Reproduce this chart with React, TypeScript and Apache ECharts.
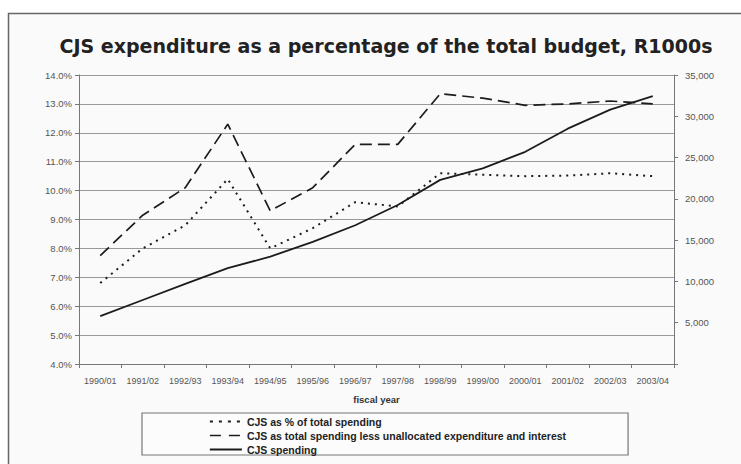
import React, { useEffect, useRef } from "react";
import * as echarts from "echarts";

const categories = [
  "1990/01", "1991/02", "1992/93", "1993/94", "1994/95", "1995/96", "1996/97",
  "1997/98", "1998/99", "1999/00", "2000/01", "2001/02", "2002/03", "2003/04",
];
const pctOfTotal = [6.8, 8.0, 8.8, 10.4, 8.0, 8.7, 9.6, 9.45, 10.6, 10.55, 10.5, 10.52, 10.6, 10.5];
const pctLessUnallocated = [7.75, 9.15, 10.1, 12.3, 9.3, 10.1, 11.6, 11.6, 13.35, 13.2, 12.95, 13.0, 13.1, 13.0];
const cjsSpending = [5800, 7750, 9700, 11600, 13000, 14800, 16800, 19250, 22300, 23700, 25700, 28500, 30800, 32450];

const seriesNames = [
  "CJS as % of total spending",
  "CJS as total spending less unallocated expenditure and interest",
  "CJS spending",
];
const titleText = "CJS expenditure as a percentage of the total budget, R1000s";
const xAxisName = "fiscal year";

export default function App() {
  const ref = useRef<HTMLDivElement>(null);
  useEffect(() => {
    if (!ref.current) return;
    const chart = echarts.init(ref.current, undefined, { renderer: "svg" });
    const lineColor = "#1c1c1c";
    const labelColor = "#555";
    const hiddenSymbol = { color: "rgba(0,0,0,0)", borderColor: "rgba(0,0,0,0)", borderWidth: 0 };
    chart.setOption({
      animation: false,
      backgroundColor: "#ffffff",
      graphic: [
        {
          type: "rect",
          z: -10,
          shape: { x: 8.5, y: 13.5, width: 740, height: 460 },
          style: { fill: "#fafafa", stroke: "#666", lineWidth: 1.5 },
        },
      ],
      title: {
        text: titleText,
        left: 381,
        textAlign: "center",
        top: 31,
        textStyle: {
          fontFamily: "DejaVu Sans",
          fontWeight: "bold",
          fontSize: 19,
          color: "#222",
        },
      },
      grid: { left: 79, top: 75, width: 595, height: 289, containLabel: false },
      legend: {
        orient: "vertical",
        left: 142,
        top: 413,
        padding: [3, 62, 0, 67],
        itemGap: 3,
        itemWidth: 32,
        itemHeight: 11,
        borderColor: "#777",
        borderWidth: 1.2,
        backgroundColor: "#fcfcfc",
        itemStyle: hiddenSymbol,
        textStyle: {
          fontFamily: "Liberation Sans",
          fontWeight: "bold",
          fontSize: 10.5,
          color: "#222",
        },
        data: [
          { name: seriesNames[0], itemStyle: hiddenSymbol, lineStyle: { type: [3, 6], width: 1.8 } },
          { name: seriesNames[1], itemStyle: hiddenSymbol, lineStyle: { type: [11, 8], width: 1.6 } },
          { name: seriesNames[2], itemStyle: hiddenSymbol, lineStyle: { type: "solid", width: 1.8 } },
        ],
      },
      xAxis: {
        type: "category",
        data: categories,
        boundaryGap: true,
        name: xAxisName,
        nameLocation: "middle",
        nameGap: 30,
        nameTextStyle: {
          fontFamily: "Liberation Sans",
          fontWeight: "bold",
          fontSize: 9.5,
          color: "#333",
        },
        axisLine: { lineStyle: { color: "#777", width: 1 } },
        axisTick: { show: true, length: 4, lineStyle: { color: "#777" } },
        axisLabel: {
          interval: 0,
          fontFamily: "Liberation Sans",
          fontSize: 9,
          color: labelColor,
          margin: 12,
        },
      },
      yAxis: [
        {
          type: "value",
          min: 4,
          max: 14,
          interval: 1,
          axisLine: { show: true, lineStyle: { color: "#777", width: 1 } },
          axisTick: { show: true, length: 4, lineStyle: { color: "#777" } },
          splitLine: { show: true, lineStyle: { color: "#999", width: 1 } },
          axisLabel: {
            fontFamily: "Liberation Sans",
            fontSize: 9.5,
            color: labelColor,
            margin: 7,
            formatter: (v: number) => v.toFixed(1) + "%",
          },
        },
        {
          type: "value",
          min: 0,
          max: 35000,
          interval: 5000,
          position: "right",
          axisLine: { show: true, lineStyle: { color: "#777", width: 1 } },
          axisTick: { show: true, length: 4, lineStyle: { color: "#777" } },
          splitLine: { show: false },
          axisLabel: {
            fontFamily: "Liberation Sans",
            fontSize: 9.5,
            color: labelColor,
            margin: 11,
            formatter: (v: number) => (v === 0 ? "" : v.toLocaleString("en-US")),
          },
        },
      ],
      series: [
        {
          name: seriesNames[0],
          type: "line",
          yAxisIndex: 0,
          data: pctOfTotal,
          symbol: "none",
          lineStyle: { color: lineColor, width: 2, type: [2, 5] },
          itemStyle: { color: lineColor },
        },
        {
          name: seriesNames[1],
          type: "line",
          yAxisIndex: 0,
          data: pctLessUnallocated,
          symbol: "none",
          lineStyle: { color: lineColor, width: 1.7, type: [12, 6] },
          itemStyle: { color: lineColor },
        },
        {
          name: seriesNames[2],
          type: "line",
          yAxisIndex: 1,
          data: cjsSpending,
          symbol: "none",
          lineStyle: { color: lineColor, width: 1.8 },
          itemStyle: { color: lineColor },
        },
      ],
    });
    return () => chart.dispose();
  }, []);
  return (
    <div
      ref={ref}
      style={{ position: "fixed", left: 0, top: 0, width: 741, height: 464 }}
    />
  );
}
